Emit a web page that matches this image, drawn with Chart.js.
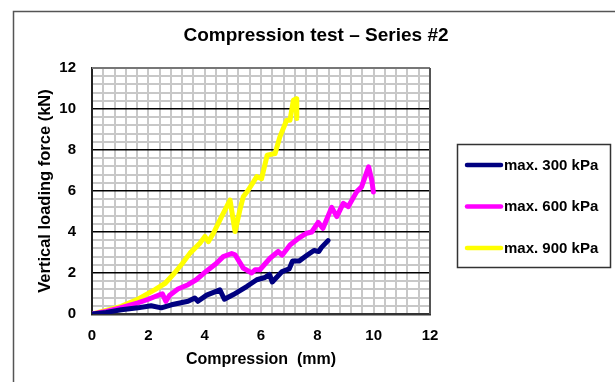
<!DOCTYPE html>
<html>
<head>
<meta charset="utf-8">
<script src="https://cdn.jsdelivr.net/npm/chart.js@4.4.0/dist/chart.umd.min.js"></script>
<style>
  html, body { margin: 0; padding: 0; background: #fff; }
</style>
</head>
<body>
<canvas id="chart" width="615" height="382"></canvas>
<script>
// series (x = compression mm, y = force kN)
var seriesNames = ['max. 300 kPa', 'max. 600 kPa', 'max. 900 kPa'];
var seriesColors = ['#000080', '#ff00ff', '#ffff00'];

var x300 = [0, 0.5, 1.04, 1.63, 2.1, 2.46, 2.82, 3.41, 3.65, 3.76, 4.07, 4.54, 4.7, 5.02, 5.49, 5.85, 6.14, 6.3, 6.4, 6.75, 7.0, 7.12, 7.35, 7.62, 7.88, 8.05, 8.15, 8.38];
var y300 = [0, 0.08, 0.21, 0.3, 0.4, 0.3, 0.45, 0.62, 0.78, 0.62, 0.92, 1.18, 0.72, 0.95, 1.34, 1.67, 1.78, 1.93, 1.56, 2.07, 2.2, 2.58, 2.58, 2.85, 3.1, 3.05, 3.25, 3.58];

var x600 = [0, 0.5, 1.0, 1.63, 2.0, 2.4, 2.5, 2.62, 2.76, 3.05, 3.41, 3.7, 4.07, 4.4, 4.66, 4.96, 5.08, 5.37, 5.67, 5.79, 5.96, 6.32, 6.61, 6.75, 7.03, 7.3, 7.62, 7.8, 8.03, 8.2, 8.51, 8.69, 8.92, 9.1, 9.4, 9.57, 9.82, 9.93, 9.99];
var y600 = [0, 0.12, 0.3, 0.54, 0.72, 0.94, 0.98, 0.62, 0.92, 1.22, 1.43, 1.67, 2.1, 2.45, 2.8, 2.95, 2.89, 2.24, 2.0, 2.16, 2.16, 2.72, 3.05, 2.87, 3.37, 3.66, 3.94, 4.0, 4.47, 4.18, 5.2, 4.75, 5.4, 5.24, 5.97, 6.2, 7.18, 6.54, 5.95];

var x900 = [0, 0.5, 1.04, 1.6, 2.22, 2.6, 2.93, 3.2, 3.48, 3.83, 4.01, 4.13, 4.31, 4.6, 4.9, 5.08, 5.25, 5.37, 5.55, 5.85, 6.02, 6.22, 6.5, 6.67, 6.91, 7.03, 7.15, 7.25, 7.27];
var y900 = [0, 0.18, 0.37, 0.7, 1.18, 1.5, 2.0, 2.45, 2.97, 3.45, 3.78, 3.53, 3.94, 4.75, 5.56, 4.02, 5.07, 5.72, 6.05, 6.7, 6.6, 7.75, 7.83, 8.64, 9.45, 9.45, 10.43, 10.5, 9.54];

function pts(xs, ys) {
  return xs.map(function (x, i) { return { x: x, y: ys[i] }; });
}
function isMajor(v) {
  return Math.abs(v / 2 - Math.round(v / 2)) < 1e-6;
}

Chart.defaults.font.family = "'Liberation Sans', Arial, sans-serif";
Chart.defaults.color = '#000';

// outer frame, top/right plot border and the boxed legend
var decor = {
  id: 'decor',
  beforeDraw: function (chart) {
    var c = chart.ctx;
    c.save();
    c.fillStyle = '#fff';
    c.fillRect(0, 0, chart.width, chart.height);
    c.strokeStyle = '#555';
    c.lineWidth = 1.5;
    c.strokeRect(13.5, 11.5, 700, 500);
    c.restore();
  },
  beforeDatasetsDraw: function (chart) {
    var a = chart.chartArea, c = chart.ctx;
    c.save();
    c.strokeStyle = '#777';
    c.lineWidth = 2;
    c.beginPath();
    c.moveTo(a.left, a.top);
    c.lineTo(a.right, a.top);
    c.stroke();
    c.strokeStyle = '#555';
    c.beginPath();
    c.moveTo(a.right, a.top);
    c.lineTo(a.right, a.bottom);
    c.stroke();
    c.restore();
  },
  afterDraw: function (chart) {
    var c = chart.ctx;
    c.save();
    c.strokeStyle = '#333';
    c.lineWidth = 1.5;
    c.strokeRect(457.5, 144.5, 153, 123);
    c.font = "bold 15px 'Liberation Sans', Arial, sans-serif";
    c.textBaseline = 'middle';
    c.fillStyle = '#000';
    c.lineCap = 'round';
    chart.data.datasets.forEach(function (ds, i) {
      var y = 165 + i * 41.5;
      c.strokeStyle = ds.borderColor;
      c.lineWidth = 4.5;
      c.beginPath();
      c.moveTo(467, y);
      c.lineTo(501, y);
      c.stroke();
      c.fillText(ds.label, 504, y + 0.5);
    });
    c.restore();
  }
};

new Chart(document.getElementById('chart').getContext('2d'), {
  type: 'scatter',
  data: {
    datasets: [
      { label: seriesNames[0], data: pts(x300, y300), borderColor: seriesColors[0] },
      { label: seriesNames[1], data: pts(x600, y600), borderColor: seriesColors[1] },
      { label: seriesNames[2], data: pts(x900, y900), borderColor: seriesColors[2] }
    ]
  },
  options: {
    responsive: false,
    animation: false,
    showLine: true,
    elements: {
      point: { radius: 0 },
      line: { borderWidth: 5, tension: 0, borderJoinStyle: 'round', borderCapStyle: 'round' }
    },
    layout: { padding: { left: 17, right: 0, top: 0, bottom: 0 } },
    plugins: {
      legend: { display: false },
      tooltip: { enabled: false },
      title: {
        display: true,
        text: 'Compression test \u2013 Series #2',
        font: { size: 19, weight: 'bold' },
        color: '#000',
        padding: { top: 24, bottom: 21.2 }
      }
    },
    scales: {
      x: {
        type: 'linear',
        min: 0, max: 12,
        afterFit: function (s) { s.height = 68; },
        border: { color: '#333', width: 2.5 },
        grid: {
          drawTicks: false,
          color: function (ctx) { return ctx.tick && ctx.tick.value === 0 ? '#222' : '#c8c8c8'; },
          lineWidth: 2
        },
        ticks: {
          stepSize: 0.4,
          maxTicksLimit: 100,
          autoSkip: false,
          maxRotation: 0,
          padding: 13,
          font: { size: 15, weight: 'bold' },
          callback: function (v) { return isMajor(v) ? String(Math.round(v)) : ''; }
        },
        title: {
          display: true,
          text: 'Compression  (mm)',
          font: { size: 16, weight: 'bold' },
          padding: { top: 0, bottom: 12.4 }
        }
      },
      y: {
        type: 'linear',
        min: 0, max: 12,
        afterFit: function (s) { s.width = 75; },
        border: { color: '#222', width: 2 },
        grid: {
          drawTicks: false,
          color: function (ctx) {
            var v = ctx.tick ? ctx.tick.value : 0;
            if (v === 0) return '#333';
            if (v > 11.9) return '#777';
            return isMajor(v) ? '#000' : '#c8c8c8';
          },
          lineWidth: function (ctx) {
            var v = ctx.tick ? ctx.tick.value : 0;
            return isMajor(v) && v > 0 && v < 11.9 ? 1.5 : 2;
          }
        },
        ticks: {
          stepSize: 0.4,
          maxTicksLimit: 100,
          autoSkip: false,
          padding: 16,
          font: { size: 15, weight: 'bold' },
          callback: function (v) { return isMajor(v) ? String(Math.round(v)) : ''; }
        },
        title: {
          display: true,
          text: 'Vertical loading force (kN)',
          font: { size: 16.5, weight: 'bold' },
          padding: { top: 18.1, bottom: 0 }
        }
      },
      // empty right-hand box that reserves the legend column
      yRight: {
        type: 'linear',
        position: 'right',
        min: 0, max: 12,
        afterFit: function (s) { s.width = 185; },
        grid: { display: false, drawOnChartArea: false },
        border: { display: false },
        ticks: { display: false }
      }
    }
  },
  plugins: [decor]
});
</script>
</body>
</html>
